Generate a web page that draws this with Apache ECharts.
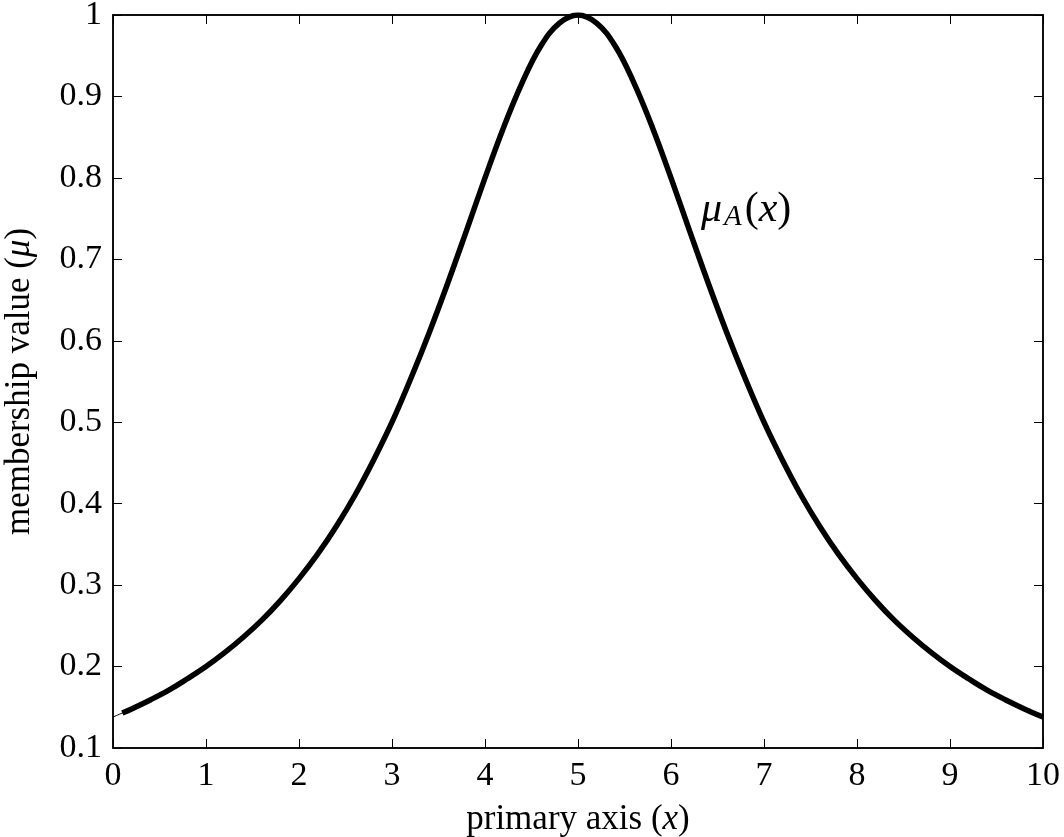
<!DOCTYPE html>
<html>
<head>
<meta charset="utf-8">
<script src="https://cdn.jsdelivr.net/npm/echarts@6/dist/echarts.min.js"></script>
<style>
  html, body { margin: 0; padding: 0; background: #fff; }
  #chart { width: 1064px; height: 837px; }
</style>
</head>
<body>
<div id="chart"></div>
<script>
// points
const xValues = [0, 0.1, 0.2, 0.4, 0.6, 0.8, 1, 1.2, 1.4, 1.6, 1.8, 2, 2.2, 2.4, 2.6, 2.8, 3, 3.2, 3.4, 3.6, 3.8, 4, 4.2, 4.4, 4.6, 4.8, 5,
  5.2, 5.4, 5.6, 5.8, 6, 6.2, 6.4, 6.6, 6.8, 7, 7.2, 7.4, 7.6, 7.8, 8, 8.2, 8.4, 8.6, 8.8, 9, 9.2, 9.4, 9.6, 9.8, 10]
const muValues = [0.138, 0.143, 0.148, 0.159, 0.171, 0.185, 0.2, 0.217, 0.236, 0.257, 0.281, 0.308, 0.338, 0.372, 0.41, 0.453,
  0.5, 0.553, 0.61, 0.671, 0.735, 0.8, 0.862, 0.917, 0.962, 0.99, 1,
  0.99, 0.962, 0.917, 0.862, 0.8, 0.735, 0.671, 0.61, 0.553, 0.5, 0.453, 0.41, 0.372, 0.338, 0.308,
  0.281, 0.257, 0.236, 0.217, 0.2, 0.185, 0.171, 0.159, 0.148, 0.138]
const xTicks = [0, 1, 2, 3, 4, 5, 6, 7, 8, 9, 10]
const yTicks = [0.1, 0.2, 0.3, 0.4, 0.5, 0.6, 0.7, 0.8, 0.9, 1]
const curveLabel = { x: 6.3, y: 0.75 }

const font = 'Liberation Serif'
const chart = echarts.init(document.getElementById('chart'))

const allPoints = xValues.map((x, i) => [x, muValues[i]])
const thickPoints = allPoints.filter(p => p[0] >= 0.1)

const tickStyle = {
  show: true,
  inside: true,
  length: 9,
  lineStyle: { color: '#000', width: 1 },
}
const lineStyle = { show: true, onZero: false, lineStyle: { color: '#000', width: 1.5 } }
const nameRich = {
  n: { fontFamily: font, fontSize: 35, color: '#000' },
  i: { fontFamily: font, fontSize: 35, fontStyle: 'italic', color: '#000' },
}

const option = {
  animation: false,
  grid: {
    left: 113,
    right: 21,
    top: 15,
    bottom: 89,
    containLabel: false,
    outerBoundsMode: 'none',
    show: true,
    borderColor: '#000',
    borderWidth: 1.5,
  },
  xAxis: [
    {
      type: 'value',
      min: xTicks[0],
      max: xTicks[xTicks.length - 1],
      interval: 1,
      name: '{n|primary axis (}{i|x}{n|)}',
      nameLocation: 'middle',
      nameGap: 54,
      nameTextStyle: { rich: nameRich },
      axisLine: lineStyle,
      axisTick: tickStyle,
      axisLabel: { fontFamily: font, fontSize: 34, color: '#000', margin: 11 },
      splitLine: { show: false },
    },
    {
      type: 'value',
      position: 'top',
      min: xTicks[0],
      max: xTicks[xTicks.length - 1],
      interval: 1,
      axisLine: lineStyle,
      axisTick: tickStyle,
      axisLabel: { show: false },
      splitLine: { show: false },
    },
  ],
  yAxis: [
    {
      type: 'value',
      min: yTicks[0],
      max: yTicks[yTicks.length - 1],
      interval: 0.1,
      name: '{n|membership value (}{i|μ}{n|)}',
      nameLocation: 'middle',
      nameGap: 76,
      nameTextStyle: { rich: nameRich },
      axisLine: lineStyle,
      axisTick: tickStyle,
      axisLabel: {
        fontFamily: font,
        fontSize: 34,
        color: '#000',
        margin: 11,
        formatter: v => String(Math.round(v * 10) / 10),
      },
      splitLine: { show: false },
    },
    {
      type: 'value',
      position: 'right',
      min: yTicks[0],
      max: yTicks[yTicks.length - 1],
      interval: 0.1,
      axisLine: lineStyle,
      axisTick: tickStyle,
      axisLabel: { show: false },
      splitLine: { show: false },
    },
  ],
  series: [
    {
      type: 'line',
      data: allPoints,
      smooth: 0.4,
      showSymbol: false,
      lineStyle: { color: '#000', width: 1 },
      z: 2,
    },
    {
      type: 'line',
      data: thickPoints,
      smooth: 0.4,
      showSymbol: false,
      lineStyle: { color: '#000', width: 5.5 },
      z: 3,
    },
  ],
}

chart.setOption(option)

// curve annotation placed through the axes
const pos = chart.convertToPixel({ xAxisIndex: 0, yAxisIndex: 0 }, [curveLabel.x, curveLabel.y])
chart.setOption({
  graphic: [
    {
      type: 'text',
      left: pos[0] + 2,
      top: pos[1] - 30,
      style: {
        text: '{m|μ}{s|A}{n|(}{m|x}{n|)}',
        rich: {
          m: { fontFamily: font, fontSize: 42, fontStyle: 'italic', fill: '#000' },
          s: { fontFamily: font, fontSize: 29, fontStyle: 'italic', fill: '#000', padding: [16, 3, 0, 2] },
          n: { fontFamily: font, fontSize: 42, fill: '#000' },
        },
      },
    },
  ],
})
</script>
</body>
</html>
